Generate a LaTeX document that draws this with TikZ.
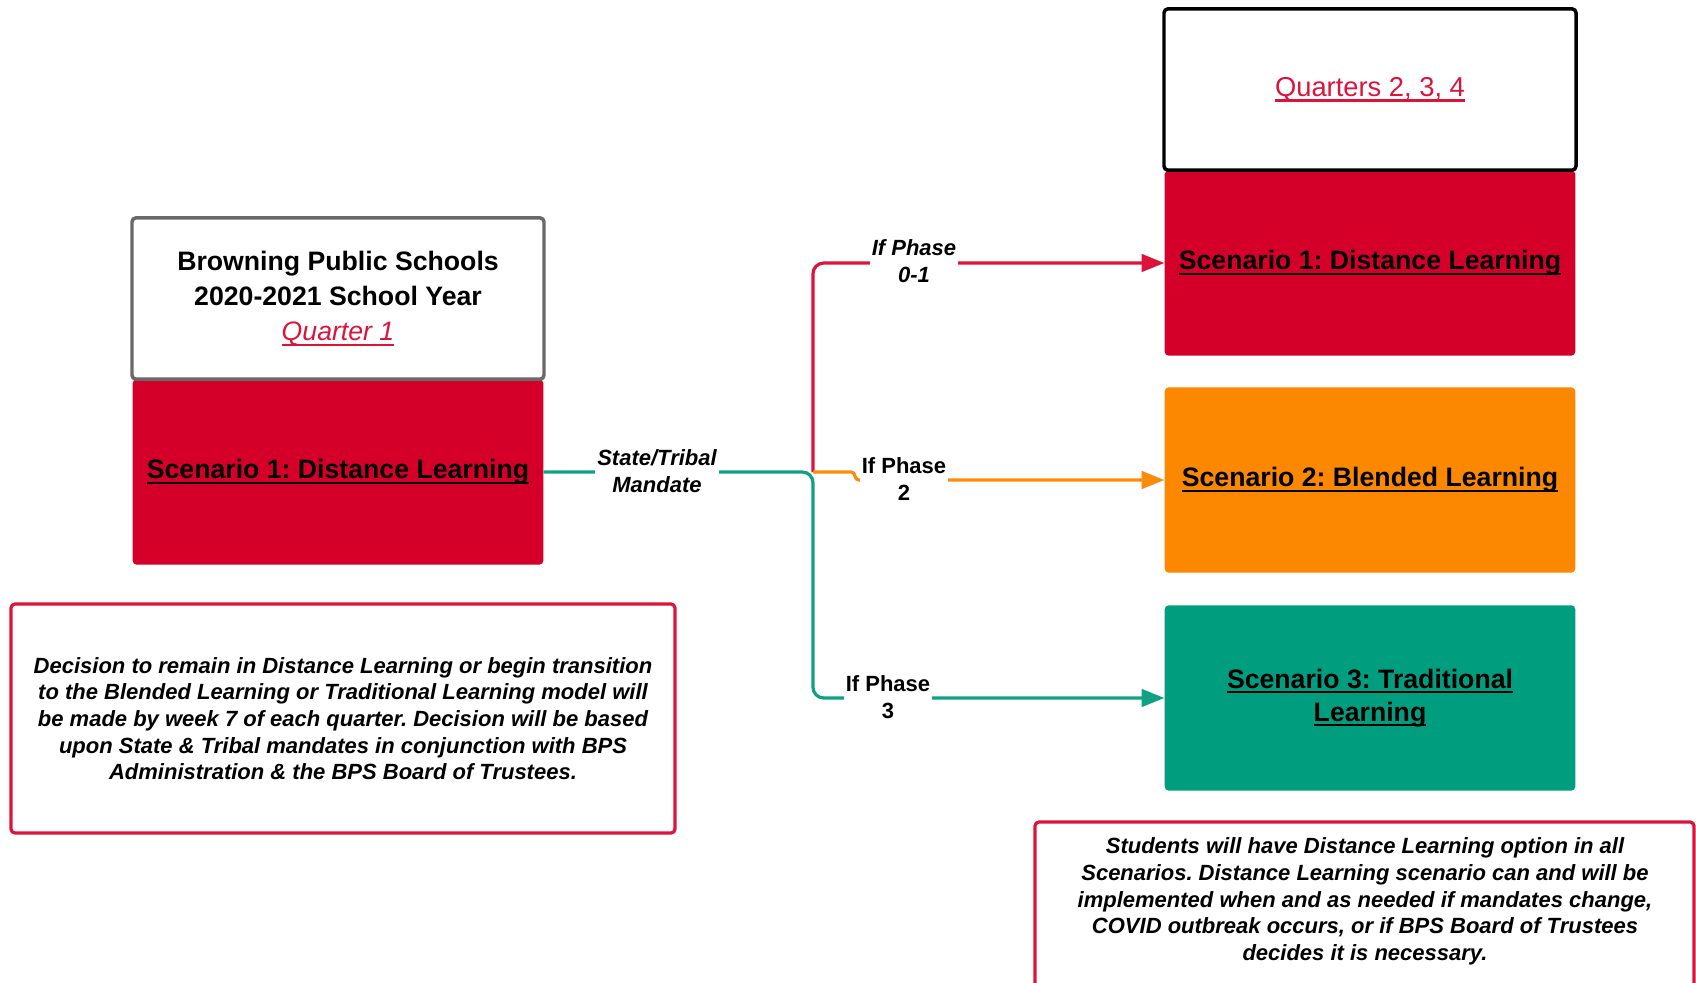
\documentclass[tikz,border=0pt]{standalone}
\usepackage{fontspec}
\setmainfont{Liberation Sans}
\usetikzlibrary{arrows.meta}
\definecolor{scred}{RGB}{213,0,42}
\definecolor{scorange}{RGB}{251,136,0}
\definecolor{scgreen}{RGB}{0,158,126}
\definecolor{lnred}{RGB}{220,20,60}
\definecolor{lngreen}{RGB}{16,160,130}
\definecolor{lnorange}{RGB}{250,140,10}
\definecolor{hdgray}{RGB}{105,105,105}
\newcommand\ulin[1]{\setbox0\hbox{#1}\leavevmode\rlap{\vrule height -2.2pt depth 3.8pt width \wd0}\box0}
\frenchspacing
\begin{document}
\begin{tikzpicture}[x=0.75pt,y=-0.75pt,every node/.style={inner sep=2pt},
    hdr/.style={draw=#1,fill=white,line width=2.6pt,rounded corners=3pt,minimum width=309pt,minimum height=121pt,font=\fontsize{20}{26.5}\selectfont\bfseries,align=center},
    scen/.style={fill=#1,rounded corners=3pt,minimum width=308pt,minimum height=139pt,font=\fontsize{20}{24.75}\selectfont\bfseries,align=center},
    note/.style={font=\fontsize{16.5}{20}\selectfont\bfseries\itshape,align=center},
    frame/.style={draw=lnred,line width=2.4pt,rounded corners=3pt},
    lbl/.style={fill=white,font=\fontsize{16.5}{20}\selectfont\bfseries,align=center,inner xsep=1.5pt,inner ysep=0pt},
    link/.style={line width=2.4pt,rounded corners=8pt,-{Triangle[length=17pt,width=13pt]}}]
  \useasboundingbox (0,0) rectangle (1696,982);

  \node[scen=scred] (S1a) at (338,472) {\ulin{Scenario 1: Distance Learning}};
  \node[hdr=hdgray] (Q1) at (338,298.5) {Browning Public Schools\\2020-2021 School Year\\\textcolor{lnred}{\ulin{\mdseries\itshape Quarter 1}}};

  \node[scen=scred] (S1b) at (1370,263) {\ulin{Scenario 1: Distance Learning}};
  \node[hdr=black,font=\fontsize{20.5}{24}\selectfont] (Q234) at (1370,89.5) {\textcolor{lnred}{\ulin{Quarters 2, 3, 4}}};
  \node[scen=scorange] (S2) at (1370,480) {\ulin{Scenario 2: Blended Learning}};
  \node[scen=scgreen] (S3) at (1370,698) {\ulin{Scenario 3: Traditional}\\\ulin{Learning}};

  \node[note,frame,minimum width=498pt,minimum height=171.75pt] (N1) at (343,718.5) {Decision to remain in Distance Learning or begin transition\\to the Blended Learning or Traditional Learning model will\\be made by week 7 of each quarter. Decision will be based\\upon State \& Tribal mandates in conjunction with BPS\\Administration \& the BPS Board of Trustees.};
  \draw[frame] (1035,822) rectangle (1694,1010);
  \node[note] (N2) at (1365,901.5) {Students will have Distance Learning option in all\\Scenarios. Distance Learning scenario can and will be\\implemented when and as needed if mandates change,\\COVID outbreak occurs, or if BPS Board of Trustees\\decides it is necessary.};

  \coordinate (J) at (813,472);
  \coordinate (K) at (855,472);
  \draw[link,lngreen] (S1a.east) -- (J) |- (S3.west);
  \draw[link,lnred] (J) |- (S1b.west);
  \draw[link,lnorange,rounded corners=3pt] (J) -- (K) |- (S2.west);

  \node[lbl,font=\fontsize{16.5}{20}\selectfont\bfseries\itshape] (ST) at (657,471) {State/Tribal\\Mandate};
  \node[lbl,font=\fontsize{16.5}{20}\selectfont\bfseries\itshape] (P1) at (914,261) {If Phase\\0-1};
  \node[lbl] (P2) at (904,479) {If Phase\\2};
  \node[lbl] (P3) at (888,697) {If Phase\\3};
\end{tikzpicture}
\end{document}
